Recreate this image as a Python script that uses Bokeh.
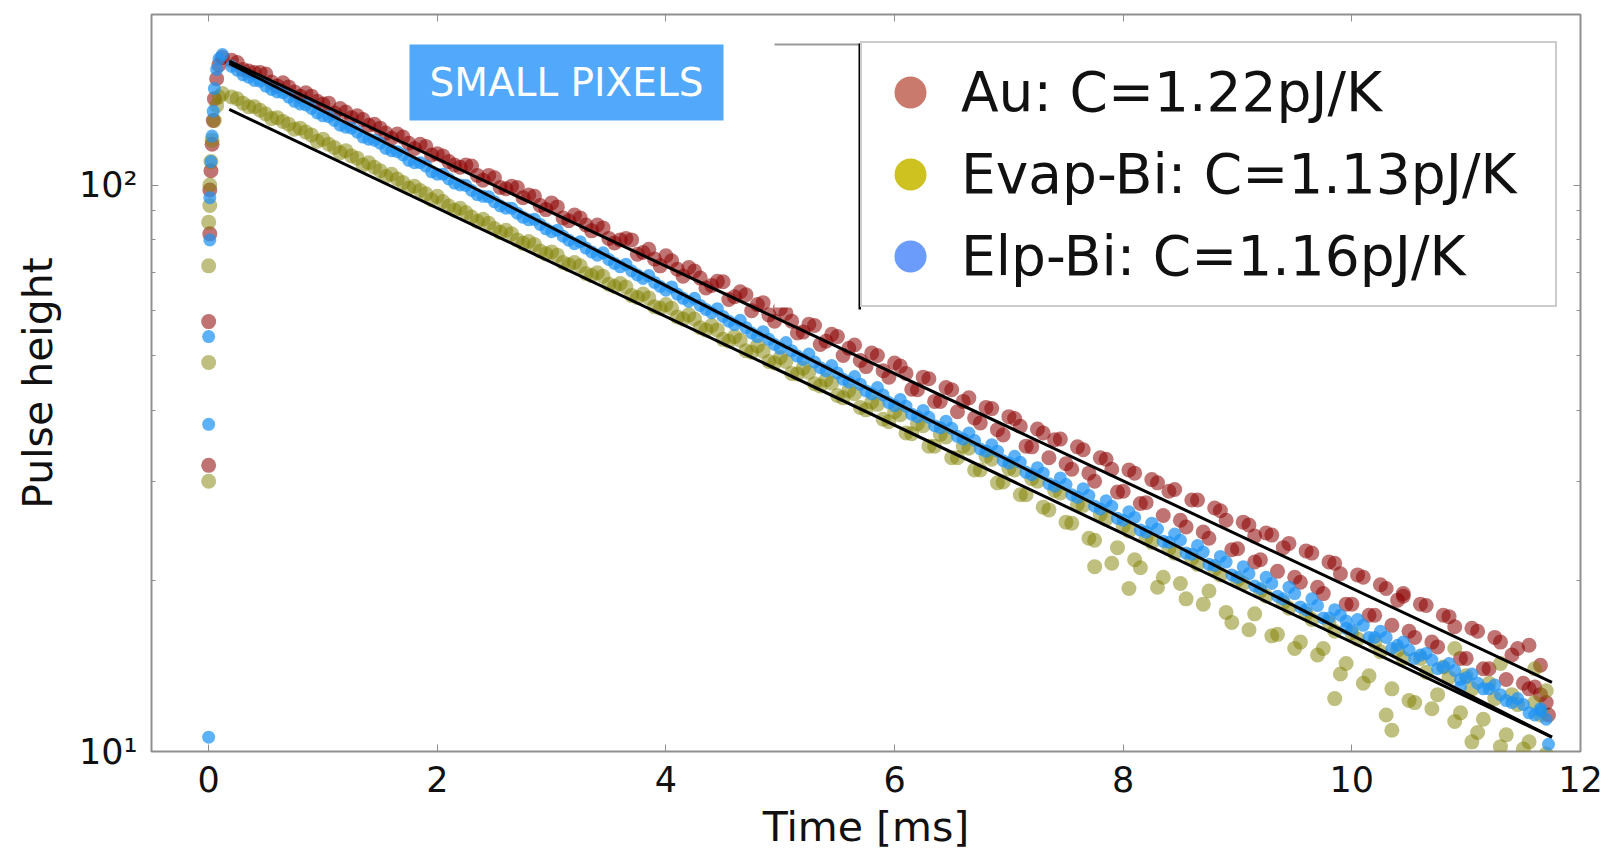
from bokeh.plotting import figure
from bokeh.models import (Range1d, FixedTicker, LinearAxis, LogAxis, Legend, LegendItem,
                          BoxAnnotation, Label, ColumnDataSource)
from bokeh.embed import file_html
from bokeh.resources import INLINE

# ---------------- data ----------------
TIME = [0.2, 0.3, 0.4, 0.5, 0.6, 0.7, 0.8, 0.9, 1.0, 1.1,
        1.2, 1.3, 1.4, 1.5, 1.6, 1.7, 1.8, 1.9, 2.0, 2.1,
        2.2, 2.3, 2.4, 2.5, 2.6, 2.7, 2.8, 2.9, 3.0, 3.1,
        3.2, 3.3, 3.4, 3.5, 3.6, 3.7, 3.8, 3.9, 4.0, 4.1,
        4.2, 4.3, 4.4, 4.5, 4.6, 4.7, 4.8, 4.9, 5.0, 5.1,
        5.2, 5.3, 5.4, 5.5, 5.6, 5.7, 5.8, 5.9, 6.0, 6.1,
        6.2, 6.3, 6.4, 6.5, 6.6, 6.7, 6.8, 6.9, 7.0, 7.1,
        7.2, 7.3, 7.4, 7.5, 7.6, 7.7, 7.8, 7.9, 8.0, 8.1,
        8.2, 8.3, 8.4, 8.5, 8.6, 8.7, 8.8, 8.9, 9.0, 9.1,
        9.2, 9.3, 9.4, 9.5, 9.6, 9.7, 9.8, 9.9, 10.0, 10.1,
        10.2, 10.3, 10.4, 10.5, 10.6, 10.7, 10.8, 10.9, 11.0, 11.1,
        11.2, 11.3, 11.4, 11.5, 11.6, 11.7]

TIME_B = [0.25, 0.35, 0.45, 0.55, 0.65, 0.75, 0.85, 0.95, 1.05, 1.15,
          1.25, 1.35, 1.45, 1.55, 1.65, 1.75, 1.85, 1.95, 2.05, 2.15,
          2.25, 2.35, 2.45, 2.55, 2.65, 2.75, 2.85, 2.95, 3.05, 3.15,
          3.25, 3.35, 3.45, 3.55, 3.65, 3.75, 3.85, 3.95, 4.05, 4.15,
          4.25, 4.35, 4.45, 4.55, 4.65, 4.75, 4.85, 4.95, 5.05, 5.15,
          5.25, 5.35, 5.45, 5.55, 5.65, 5.75, 5.85, 5.95, 6.05, 6.15,
          6.25, 6.35, 6.45, 6.55, 6.65, 6.75, 6.85, 6.95, 7.05, 7.15,
          7.25, 7.35, 7.45, 7.55, 7.65, 7.75, 7.85, 7.95, 8.05, 8.15,
          8.25, 8.35, 8.45, 8.55, 8.65, 8.75, 8.85, 8.95, 9.05, 9.15,
          9.25, 9.35, 9.45, 9.55, 9.65, 9.75, 9.85, 9.95, 10.05, 10.15,
          10.25, 10.35, 10.45, 10.55, 10.65, 10.75, 10.85, 10.95, 11.05, 11.15,
          11.25, 11.35, 11.45, 11.55, 11.65]

AU_Y = [166, 160, 158, 157, 149.5, 149, 143.5, 143.5, 139, 134,
        134.5, 132.5, 127.5, 126, 121, 121.5, 116, 117, 113.5, 110,
        107.5, 108, 102, 103, 98.5, 99, 96, 92, 93, 87.5,
        88.5, 85, 85, 80.5, 80, 80, 76, 74, 75, 71,
        71.5, 68.5, 66.5, 67.5, 63.5, 64, 61.5, 59, 60.5, 57.5,
        55, 56.5, 53, 54, 51.5, 49, 50.5, 47, 48.5, 46.5,
        43.5, 45.5, 41.5, 43.5, 41.5, 38.8, 40.5, 37, 39, 37.5,
        34.5, 36.5, 35.5, 32.2, 34.5, 31, 33, 31.5, 28.8, 31,
        27.5, 29.8, 28.8, 25.6, 27.8, 24.4, 26.9, 25.6, 22.8, 25.1,
        21.8, 24.1, 22.9, 20.3, 22.6, 19.5, 21.6, 20.6, 18.2, 20.3,
        17.4, 19.4, 18.5, 16.3, 18.2, 15.6, 17.4, 16.6, 14.6, 16.3,
        14.0, 15.6, 14.8, 13.2, 13.0, 12.2]
AU_Y_B = [164.5, 159, 158, 152, 151.5, 146, 145.5, 140.5, 139.5, 136.5,
          131.5, 130.5, 128, 123.5, 123, 118.5, 118, 113, 112.5, 108.5,
          108.5, 104, 104, 99, 99.5, 95, 95.5, 90.5, 91.5, 86.5,
          87.5, 83, 84, 79, 80.5, 75.5, 77, 72, 73.5, 69,
          70.5, 65.8, 67.6, 62.8, 64.8, 60, 62, 57.5, 59.4, 54.8,
          56.8, 52.3, 54.5, 50, 52.2, 47.8, 50, 45.8, 47.9, 43.6,
          45.8, 41.5, 43.9, 39.8, 42.1, 38, 40.3, 36.2, 38.7, 34.6,
          37.1, 33, 35.6, 31.5, 34.1, 30, 32.8, 28.7, 31.4, 27.4,
          30.2, 26.1, 29, 24.9, 27.8, 23.8, 26.6, 22.7, 25.4, 21.6,
          24.3, 20.8, 23.3, 19.9, 22.4, 19, 21.5, 18.2, 20.5, 17.4,
          19.7, 16.7, 18.8, 15.9, 18.1, 15.3, 17.3, 14.6, 16.5, 14,
          15.9, 13.4, 15.2, 12.9, 14.2]

ELP_Y = [162, 156.5, 153, 149.5, 146, 143, 139, 136.5, 132.5, 130,
         126.5, 124, 120.5, 118.5, 115, 113, 109.5, 108, 104.5, 102.5,
         100, 97.8, 95.5, 93.4, 91, 89.2, 86.8, 85.2, 82.7, 81.2,
         78.8, 77.4, 75.2, 73.9, 71.7, 70.5, 68.4, 67.3, 65.2, 64.2,
         62.3, 61.3, 59.5, 58.6, 56.7, 56, 54, 53.4, 51.5, 51,
         49.2, 48.7, 47, 46.6, 44.9, 44.5, 42.8, 42.6, 40.8, 40.7,
         39, 38.9, 37.3, 37.2, 35.6, 35.4, 33.9, 33.9, 32.3, 32.4,
         30.8, 31, 29.4, 29.6, 28.1, 28.3, 26.8, 27.1, 25.6, 25.9,
         24.4, 24.7, 23.4, 23.6, 22.3, 22.5, 21.3, 21.6, 20.3, 20.6,
         19.4, 19.8, 18.6, 19, 17.8, 18.1, 17.2, 17.4, 16.4, 16.7,
         15.9, 15.9, 15.4, 15.1, 14.8, 14.5, 14.1, 13.9, 13.5, 13.2,
         12.9, 12.6, 12.2, 12.1, 11.6, 11.4]
ELP_Y_B = [159.5, 155, 152.5, 147.5, 145.5, 140.5, 138.5, 134, 132, 127.5,
           126, 121.5, 120, 116, 114.5, 110.5, 109.5, 105.5, 104.5, 100.8,
           99.8, 96.2, 95.3, 91.9, 91, 87.7, 87, 83.7, 83.2, 79.9,
           79.4, 76.2, 75.9, 72.7, 72.5, 69.4, 69.2, 66.2, 66.1, 63.1,
           63.1, 60.3, 60.5, 57.5, 57.7, 54.8, 55.1, 52.3, 52.7, 49.9,
           50.3, 47.6, 48, 45.4, 45.9, 43.3, 43.9, 41.3, 41.8, 39.4,
           40, 37.6, 38.3, 36, 36.5, 34.2, 34.8, 32.6, 33.2, 31.1,
           31.7, 29.7, 30.4, 28.4, 29.1, 27.1, 27.7, 25.8, 26.5, 24.6,
           25.3, 23.5, 24.2, 22.4, 23.1, 21.4, 22.1, 20.5, 21.2, 19.6,
           20.3, 18.8, 19.5, 18, 18.6, 17.2, 17.8, 16.5, 17.1, 15.9,
           16.3, 15.2, 15.6, 14.6, 14.9, 14, 14.3, 13.4, 13.7, 12.9,
           13.1, 12.3, 12.4, 11.7, 11.8]

EVAP_Y = [143, 139.5, 137.5, 133.5, 131.5, 128, 126, 122.5, 120.5, 116.5,
          115, 111.5, 109.5, 106, 104.5, 101, 99.5, 96.5, 95.5, 91.8,
          91, 87.8, 87, 83.8, 83.2, 80, 79.5, 76.5, 76.2, 73,
          73, 69.8, 70, 66.8, 67, 63.8, 64.2, 61, 61.5, 58.5,
          59, 56, 56.5, 53.4, 54, 51, 52, 48.8, 49.6, 46.5,
          47.5, 44.6, 45.3, 42.5, 43.4, 40.5, 41.4, 38.6, 39.8, 36.5,
          37.9, 34.6, 36.3, 33, 34.6, 31.4, 33.2, 29.8, 31.6, 28.4,
          30.3, 27, 28.9, 25.4, 27.3, 23.8, 26.2, 21.5, 25, 21.8,
          23.8, 19.5, 22.8, 19.8, 21.9, 18.2, 21, 17.6, 20.1, 16.4,
          19.2, 16, 18.3, 15.2, 17.5, 14.8, 16.9, 13.7, 16.2, 13.2,
          15.6, 11.6, 15.1, 12.3, 14.6, 11.9, 14.1, 11.3, 13.6, 10.8,
          13.2, 10.2, 12.6, 10.1, 12.2, 9.9]
EVAP_Y_B = [142, 137.5, 135.5, 131, 129.5, 125.5, 124, 119.5, 118, 114,
            112.5, 108.5, 107.5, 103.5, 102.5, 98.8, 97.8, 94.2, 93.5, 90.3,
            89.4, 86.3, 85.6, 82.5, 82, 78.9, 78.5, 75.6, 75.2, 72.3,
            72, 69.2, 69, 66.2, 66.1, 63.3, 63.2, 60.6, 60.6, 58,
            58, 55.5, 55.5, 53, 53.2, 50.7, 50.9, 48.5, 48.8, 46.4,
            46.7, 44.2, 44.7, 42.1, 42.8, 40.1, 41, 38.2, 39.3, 36.4,
            37.6, 34.6, 35.9, 33, 34.3, 31.4, 32.8, 29.9, 31.4, 28.4,
            30, 26.7, 28.6, 25.3, 27.2, 23.6, 25.7, 22.9, 24.5, 21.1,
            23.4, 20.3, 22.4, 18.6, 21.4, 19.2, 20.5, 16.9, 19.8, 17.5,
            18.8, 16.1, 17.9, 15.6, 17.1, 15.2, 16.3, 14.3, 15.8, 13.6,
            15, 12.9, 14.6, 12.2, 13.8, 12.6, 13.5, 11.7, 12.9, 11.4,
            12.4, 10.7, 12.1, 10.4, 11.6]

# rising edge of the pulses
AU_RISE_T = [0.0, 0.0, 0.01, 0.01, 0.02, 0.03, 0.04, 0.05, 0.07, 0.09, 0.12]
AU_RISE_Y = [32, 57.4, 82, 98, 106, 118, 130, 142, 154, 163, 168]
ELP_RISE_T = [0.0, 0.0, 0.0, 0.01, 0.01, 0.02, 0.03, 0.04, 0.05, 0.07, 0.09, 0.12]
ELP_RISE_Y = [10.6, 37.8, 54, 80, 95, 110, 122, 135, 148, 160, 167, 170]
EVAP_RISE_T = [0.0, 0.0, 0.0, 0.0, 0.01, 0.01, 0.02, 0.03, 0.05, 0.07, 0.09, 0.12]
EVAP_RISE_Y = [30, 48.6, 72, 86, 92, 100, 110, 120, 130, 138, 143, 145]

# scattered points in the tail
AU_TAIL_T = [11.55, 11.65, 11.72, 10.45, 9.15]
AU_TAIL_Y = [15.4, 12.6, 11.6, 19.0, 24.0]
ELP_TAIL_T = [11.65, 11.72, 10.95, 9.95]
ELP_TAIL_Y = [11.9, 10.3, 13.0, 17.0]
EVAP_TAIL_T = [7.75, 8.05, 9.85, 10.35, 10.9, 11.05, 11.3, 11.6, 11.7]
EVAP_TAIL_Y = [21.2, 19.4, 12.4, 10.9, 15.2, 10.4, 14.3, 14.0, 12.8]

# exponential fits
FIT_T = [0.18, 11.75]
AU_FIT = [165.5, 13.25]
ELP_FIT = [164.0, 10.6]
EVAP_FIT = [136.0, 10.6]

LABELS = ["Au: C=1.22pJ/K", "Evap-Bi: C=1.13pJ/K", "Elp-Bi: C=1.16pJ/K"]
X_TICKS = [0, 2, 4, 6, 8, 10, 12]
Y_TICKS = [10, 100]
Y_TICK_LABELS = {10: "10\u00b9", 100: "10\u00b2"}
Y_MINOR = [20, 30, 40, 50, 60, 70, 80, 90, 200]

# ---------------- figure ----------------
FONT = "DejaVu Sans"
p = figure(width=1608, height=853, output_backend="svg", toolbar_location=None,
           x_range=Range1d(-0.5, 12), y_range=Range1d(10, 200), y_axis_type="log",
           min_border_left=151, min_border_right=28, min_border_top=14,
           min_border_bottom=101)
p.background_fill_color = "white"
p.border_fill_color = "white"
p.outline_line_color = "#8f8f8f"
p.outline_line_width = 2
p.xgrid.visible = False
p.ygrid.visible = False

def style_axis(ax, labels=True):
    ax.axis_line_color = None
    ax.major_tick_in = 7
    ax.major_tick_out = 0
    ax.minor_tick_in = 4
    ax.minor_tick_out = 0
    ax.major_tick_line_color = "#8f8f8f"
    ax.minor_tick_line_color = "#8f8f8f"
    ax.major_label_text_font = FONT
    ax.major_label_text_color = "#111111"
    ax.axis_label_text_font = FONT
    ax.axis_label_text_font_style = "normal"
    ax.axis_label_text_color = "#111111"
    if not labels:
        ax.major_label_text_font_size = "1px"
        ax.major_label_text_color = None
        ax.major_label_standoff = 0

xax = p.xaxis[0]
xax.ticker = FixedTicker(ticks=X_TICKS)
style_axis(xax)
xax.minor_tick_line_color = None
xax.major_label_text_font_size = "35px"
xax.axis_label = "Time [ms]"
xax.axis_label_text_font_size = "41px"
xax.major_label_standoff = 14
xax.axis_label_standoff = 8

yax = p.yaxis[0]
yax.ticker = FixedTicker(ticks=Y_TICKS, minor_ticks=Y_MINOR)
style_axis(yax)
yax.major_label_overrides = Y_TICK_LABELS
yax.major_label_text_font_size = "35px"
yax.axis_label = "Pulse height"
yax.axis_label_text_font_size = "41px"
yax.major_label_standoff = 14
yax.axis_label_standoff = 14

top = LinearAxis(ticker=FixedTicker(ticks=X_TICKS))
style_axis(top, labels=False)
top.minor_tick_line_color = None
p.add_layout(top, "above")
right = LogAxis(ticker=FixedTicker(ticks=Y_TICKS, minor_ticks=Y_MINOR))
style_axis(right, labels=False)
p.add_layout(right, "right")

# ---------------- data points ----------------
COL_AU, COL_EVAP, COL_ELP = "#8b0000", "#808000", "#1e93f2"
src_au = ColumnDataSource(dict(t=AU_RISE_T + TIME + TIME_B + AU_TAIL_T,
                               y=AU_RISE_Y + AU_Y + AU_Y_B + AU_TAIL_Y))
src_ev = ColumnDataSource(dict(t=EVAP_RISE_T + TIME + TIME_B + EVAP_TAIL_T,
                               y=EVAP_RISE_Y + EVAP_Y + EVAP_Y_B + EVAP_TAIL_Y))
src_el = ColumnDataSource(dict(t=ELP_RISE_T + TIME + TIME_B + ELP_TAIL_T,
                               y=ELP_RISE_Y + ELP_Y + ELP_Y_B + ELP_TAIL_Y))

p.scatter("t", "y", source=src_au, size=15, fill_color=COL_AU, fill_alpha=0.55, line_color=None)
p.scatter("t", "y", source=src_ev, size=15, fill_color=COL_EVAP, fill_alpha=0.5, line_color=None)
p.scatter("t", "y", source=src_el, size=13, fill_color=COL_ELP, fill_alpha=0.72, line_color=None)

p.line(FIT_T, AU_FIT, line_color="black", line_width=3)
p.line(FIT_T, EVAP_FIT, line_color="black", line_width=3)
p.line(FIT_T, ELP_FIT, line_color="black", line_width=3)

# ---------------- legend ----------------
# legend swatches: hidden copies of the series in the lighter legend colours
LEG_COLS = ["#c97a6c", "#cdc21f", "#6b9bfb"]
leg_r = []
for src, c in zip([src_au, src_ev, src_el], LEG_COLS):
    r = p.scatter("t", "y", source=src, marker="circle", size=34,
                  fill_color=c, fill_alpha=1.0, line_color=None)
    r.visible = False
    leg_r.append(r)
legend = Legend(items=[LegendItem(label=l, renderers=[r]) for l, r in zip(LABELS, leg_r)],
                location=(709, 444), orientation="vertical",
                label_text_font=FONT, label_text_font_size="55px", label_text_color="#111111",
                glyph_width=80, glyph_height=82, label_height=82, label_width=586,
                spacing=0, padding=8, margin=0, label_standoff=11,
                border_line_color="#9a9a9a", border_line_width=2,
                background_fill_color="white", background_fill_alpha=1.0,
                inactive_fill_alpha=0.0, click_policy="none")
p.add_layout(legend, "center")

# white patch left of the legend, with its grey top edge and black left edge of the legend
p.add_layout(BoxAnnotation(left=623, right=708, bottom=444, top=708,
                           left_units="screen", right_units="screen",
                           bottom_units="screen", top_units="screen",
                           fill_color="white", fill_alpha=1.0, line_color=None))
p.add_layout(BoxAnnotation(left=623, right=709, bottom=706, top=708,
                           left_units="screen", right_units="screen",
                           bottom_units="screen", top_units="screen",
                           fill_color="#9a9a9a", fill_alpha=1.0, line_color=None))
p.add_layout(BoxAnnotation(left=707, right=709.5, bottom=442, top=708,
                           left_units="screen", right_units="screen",
                           bottom_units="screen", top_units="screen",
                           fill_color="black", fill_alpha=1.0, line_color=None))

# "SMALL PIXELS" tag
p.add_layout(BoxAnnotation(left=258, right=572, bottom=631, top=707,
                           left_units="screen", right_units="screen",
                           bottom_units="screen", top_units="screen",
                           fill_color="#52a8fa", fill_alpha=1.0, line_color=None))
p.add_layout(Label(x=415, y=669, x_units="screen", y_units="screen", text="SMALL PIXELS",
                   text_align="center", text_baseline="middle", text_color="white",
                   text_font=FONT, text_font_size="39px"))

open("out.html", "w").write(file_html(p, INLINE))
